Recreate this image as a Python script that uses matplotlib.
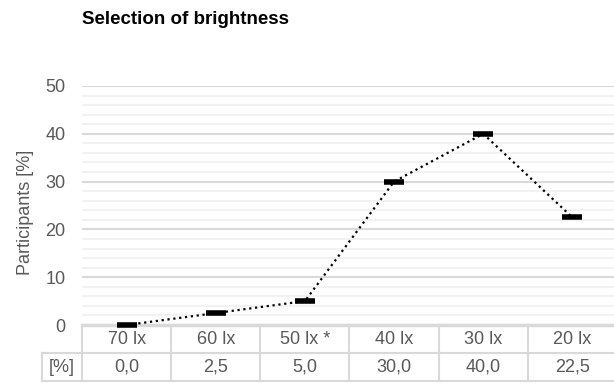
import matplotlib
matplotlib.use('Agg')
import matplotlib.pyplot as plt
from matplotlib.transforms import blended_transform_factory
from matplotlib.ticker import MultipleLocator

categories = ['70 lx', '60 lx', '50 lx *', '40 lx', '30 lx', '20 lx']
participants = [0.0, 2.5, 5.0, 30.0, 40.0, 22.5]
table_labels = ['0,0', '2,5', '5,0', '30,0', '40,0', '22,5']

plt.rcParams['font.family'] = ['Liberation Sans', 'DejaVu Sans']

W, H = 614, 383
fig = plt.figure(figsize=(W / 100, H / 100), dpi=100)

left, right = 82, 617
top, bottom = 86, 325
ax = fig.add_axes([left / W, 1 - bottom / H, (right - left) / W, (bottom - top) / H])

grey = '#595959'
line_c = '#d9d9d9'
fs = 13

x = list(range(len(categories)))
ax.plot(x, participants, color='black', linestyle=':', linewidth=1.6, zorder=3)
ax.plot(x, participants, linestyle='none', marker='_', markersize=14,
        markeredgewidth=4, color='black', zorder=4, clip_on=False)

ax.set_xlim(-0.5, len(categories) - 0.5)
ax.set_ylim(0, 50)
ax.yaxis.set_major_locator(MultipleLocator(10))
ax.yaxis.set_minor_locator(MultipleLocator(2))
ax.grid(which='major', axis='y', color=line_c, linewidth=1.5)
ax.grid(which='minor', axis='y', color='#f2f2f2', linewidth=1.5)
ax.set_axisbelow(True)
for s in ['top', 'right', 'left']:
    ax.spines[s].set_visible(False)
ax.spines['bottom'].set_color(line_c)
ax.spines['bottom'].set_linewidth(2.5)
ax.set_xticks([])
ax.tick_params(axis='y', which='both', length=0, labelsize=fs, labelcolor=grey, pad=12)
fig.text(25 / W, 1 - 212 / H, 'Participants [%]', rotation=90, ha='center', va='center',
         fontsize=fs, color=grey)

# data table under the axis
ah = bottom - top
row_h = 28 / ah
tr = blended_transform_factory(ax.transData, ax.transAxes)
kw = dict(color=line_c, linewidth=1.5, clip_on=False, transform=tr)
ax.plot([-0.5, 5.5], [-row_h, -row_h], **kw)
ax.plot([-0.5, 5.5], [-2 * row_h, -2 * row_h], **kw)
for b in range(len(categories) + 1):
    ax.plot([b - 0.5, b - 0.5], [0, -2 * row_h], **kw)
for i, c in enumerate(categories):
    ax.text(i, -row_h / 2, c, transform=tr, ha='center', va='center', fontsize=fs, color=grey)
    ax.text(i, -1.5 * row_h, table_labels[i], transform=tr, ha='center', va='center',
            fontsize=fs, color=grey)

# row header cell
cell_l = -0.5 - 40 / ((right - left) / 6)
ax.plot([cell_l, -0.5], [-row_h, -row_h], **kw)
ax.plot([cell_l, -0.5], [-2 * row_h, -2 * row_h], **kw)
ax.plot([cell_l, cell_l], [-row_h, -2 * row_h], **kw)
ax.text((cell_l - 0.5) / 2, -1.5 * row_h, '[%]', transform=tr, ha='center', va='center',
        fontsize=fs, color=grey)

fig.text(left / W, 1 - 19 / H, 'Selection of brightness', fontsize=13.5, fontweight='bold',
         ha='left', va='center', color='black')

fig.savefig('out.png', dpi=100)
